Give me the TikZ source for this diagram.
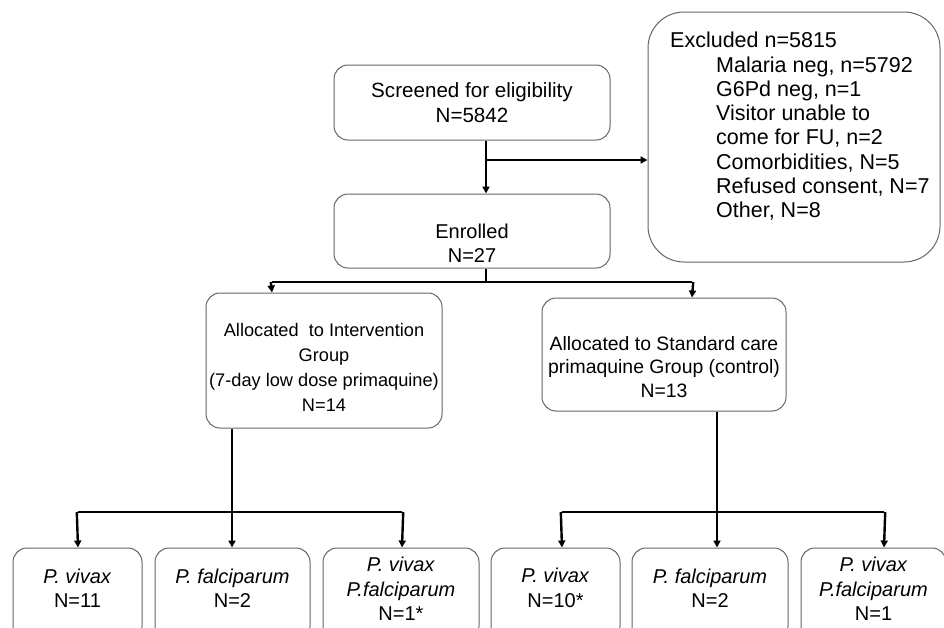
\documentclass[tikz,border=0pt]{standalone}
\usepackage{fontspec}
\setmainfont{Liberation Sans}
\usetikzlibrary{arrows.meta}
\begin{document}
\begin{tikzpicture}[x=1pt,y=-1pt,
  box/.style={draw=black!60, line width=1pt, rounded corners=14pt, fill=white, inner sep=0pt},
  txt/.style={font=\fontsize{20}{24.5}\selectfont, align=center, inner sep=0pt},
  conn/.style={line width=2.4pt, black},
  arr/.style={conn, -{Triangle[length=7pt,width=7pt]}}]
\useasboundingbox (0,0) rectangle (944,627);
\clip (0,0) rectangle (944,627);
% boxes
\node[box, minimum width=276pt, minimum height=75pt] (screen) at (472,102.5) {};
\node[txt, font=\fontsize{20.6}{24.5}\selectfont] (screent) at (472,102.5) {Screened for eligibility\\N=5842};
\node[box, rounded corners=36pt, minimum width=292pt, minimum height=250pt] (excl) at (794,137) {};
\node[txt, font=\fontsize{21.5}{24.3}\selectfont, align=left, anchor=north west] (exclt) at (670,32) {Excluded n=5815\\
\hspace*{46pt}Malaria neg, n=5792\\
\hspace*{46pt}G6Pd neg, n=1\\
\hspace*{46pt}Visitor unable to\\
\hspace*{46pt}come for FU, n=2\\
\hspace*{46pt}Comorbidities, N=5\\
\hspace*{46pt}Refused consent, N=7\\
\hspace*{46pt}Other, N=8};
\node[box, minimum width=276pt, minimum height=74pt] (enrol) at (472,231) {};
\node[txt] (enrolt) at (472,243) {Enrolled\\N=27};
\node[box, minimum width=236pt, minimum height=135pt] (interv) at (324,360.5) {};
\node[txt, font=\fontsize{18.2}{25}\selectfont] (intervt) at (324,367) {Allocated\ \ to Intervention\\Group\\(7-day low dose primaquine)\\N=14};
\node[box, minimum width=244pt, minimum height=113pt] (std) at (664,354.5) {};
\node[txt, font=\fontsize{19.4}{23.5}\selectfont] (stdt) at (664,367) {Allocated to Standard care\\primaquine Group (control)\\N=13};
% bottom boxes
\node[box, minimum width=129pt, minimum height=92pt] (b1) at (77.5,594) {};
\node[box, minimum width=155pt, minimum height=92pt] (b2) at (232.5,594) {};
\node[box, minimum width=156pt, minimum height=92pt] (b3) at (401,594) {};
\node[box, minimum width=129pt, minimum height=92pt] (b4) at (555.5,594) {};
\node[box, minimum width=156pt, minimum height=92pt] (b5) at (710,594) {};
\node[box, minimum width=145pt, minimum height=92pt] (b6) at (873.5,594) {};
\node[txt] (b1t) at (77.5,588) {\textit{P. vivax}\\N=11};
\node[txt] (b2t) at (232.5,588) {\textit{P. falciparum}\\N=2};
\node[txt] (b3t) at (401,589) {\textit{P. vivax}\\\textit{P.falciparum}\\N=1*};
\node[txt] (b4t) at (555.5,588) {\textit{P. vivax}\\N=10*};
\node[txt] (b5t) at (710,588) {\textit{P. falciparum}\\N=2};
\node[txt] (b6t) at (873.5,589) {\textit{P. vivax}\\\textit{P.falciparum}\\N=1};
% connectors
\coordinate (s1) at (486,160);
\draw[arr] (screen.south -| s1) -- (enrol.north -| s1);
\draw[arr] (s1) -- (excl.west |- s1);
\coordinate (e1) at (486,282);
\coordinate (eL) at (272,282);
\coordinate (eR) at (692,282);
\draw[conn] (enrol.south -| e1) -- (e1);
\draw[conn] (eL) -- (eR);
\draw[arr] ([xshift=-1.2pt]eL) -- (interv.north -| eL);
\draw[arr] ([xshift=1.2pt]eR) -- (std.north -| eR);
\coordinate (i1) at (232,512);
\coordinate (iL) at (78,512);
\coordinate (iR) at (402,512);
\draw[conn] (interv.south -| i1) -- (i1);
\draw[conn] (iL) -- (iR);
\draw[arr] ([xshift=-1.2pt]iL) -- (b1.north -| iL);
\draw[arr] (i1) -- (b2.north -| i1);
\draw[arr] ([xshift=1.2pt]iR) -- (b3.north -| iR);
\coordinate (c1) at (717,512);
\coordinate (cL) at (562,512);
\coordinate (cR) at (884,512);
\draw[conn] (std.south -| c1) -- (c1);
\draw[conn] (cL) -- (cR);
\draw[arr] ([xshift=-1.2pt]cL) -- (b4.north -| cL);
\draw[arr] (c1) -- (b5.north -| c1);
\draw[arr] ([xshift=1.2pt]cR) -- (b6.north -| cR);
\end{tikzpicture}
\end{document}
